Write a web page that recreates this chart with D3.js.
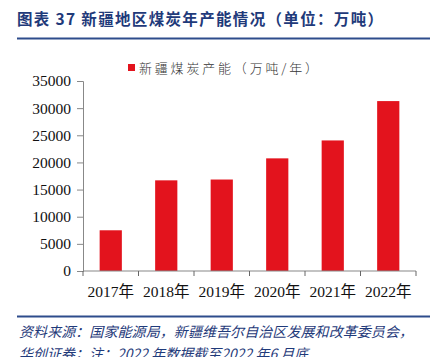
<!DOCTYPE html>
<html><head><meta charset="utf-8">
<script src="https://cdn.jsdelivr.net/npm/d3@7"></script>
<style>body{margin:0;background:#fff}svg{display:block}</style>
</head><body>
<script>
const categories = ["2017年","2018年","2019年","2020年","2021年","2022年"];
const capacity = [7500, 16700, 16850, 20750, 24050, 31300];
const yTicks = [0,5000,10000,15000,20000,25000,30000,35000];
const title = "图表 37 新疆地区煤炭年产能情况（单位：万吨）";
const legendLabel = "新疆煤炭产能（万吨/年）";
const source1 = "资料来源：国家能源局，新疆维吾尔自治区发展和改革委员会，";
const source2 = "华创证券；注：2022 年数据截至2022 年6 月底";

const W=438,H=357;
const svg=d3.select("body").append("svg").attr("width",W).attr("height",H);
const blue="#1f3a7a";
svg.append("text").attr("x",17).attr("y",25).attr("fill",blue)
  .attr("font-family","'Noto Sans CJK SC'").attr("font-weight","bold").attr("font-size",15.5)
  .attr("textLength",366).text(title);
svg.append("rect").attr("x",17).attr("y",37.5).attr("width",413).attr("height",2).attr("fill","#2e4c8c");

const x=d3.scaleBand().domain(categories).range([83,416]).paddingInner(0.6).paddingOuter(0.3);
const y=d3.scaleLinear().domain([0,35000]).range([271,81]);

svg.selectAll(".bar").data(capacity).join("rect")
  .attr("x",(d,i)=>x(categories[i])).attr("width",x.bandwidth())
  .attr("y",d=>y(d)).attr("height",d=>y(0)-y(d)).attr("fill","#e3131d");

const yAxis=svg.append("g").attr("transform","translate(83,0)")
  .call(d3.axisLeft(y).tickValues(yTicks).tickSize(6).tickPadding(6).tickFormat(d3.format("d")));
yAxis.select(".domain").attr("stroke","#888");
yAxis.selectAll(".tick line").attr("stroke","#888");
yAxis.selectAll("text").attr("font-family","'Liberation Serif'").attr("font-size",15.5).attr("fill","#111");

const bx=d3.scaleLinear().domain([0,6]).range([83,416]);
const xg=svg.append("g");
xg.append("line").attr("x1",83).attr("x2",416).attr("y1",271).attr("y2",271).attr("stroke","#888").attr("stroke-width",1.2);
xg.selectAll(".xt").data(d3.range(7)).join("line")
  .attr("x1",d=>bx(d)).attr("x2",d=>bx(d)).attr("y1",271).attr("y2",276).attr("stroke","#666");
xg.selectAll(".xl").data(categories).join("text")
  .attr("x",d=>x(d)+x.bandwidth()/2).attr("y",297).attr("text-anchor","middle")
  .attr("font-family","'Liberation Serif','Noto Sans CJK SC'").attr("font-size",15.5).attr("fill","#111").text(d=>d);

svg.append("rect").attr("x",128).attr("y",64).attr("width",7).attr("height",7).attr("fill","#e3131d");
svg.append("text").attr("x",139).attr("y",73).attr("font-family","'Noto Sans CJK SC'").attr("font-weight",300)
  .attr("font-size",13).attr("fill","#333").attr("textLength",179).text(legendLabel);

svg.append("rect").attr("x",17).attr("y",315.5).attr("width",413).attr("height",2).attr("fill","#2e4c8c");
svg.append("text").attr("x",19).attr("y",337).attr("fill",blue).attr("font-style","italic")
  .attr("font-family","'Noto Sans CJK SC'").attr("font-size",14).attr("textLength",394).text(source1);
svg.append("text").attr("x",19).attr("y",359).attr("fill",blue).attr("font-style","italic")
  .attr("font-family","'Noto Sans CJK SC'").attr("font-size",14).text(source2);
</script>
</body></html>
